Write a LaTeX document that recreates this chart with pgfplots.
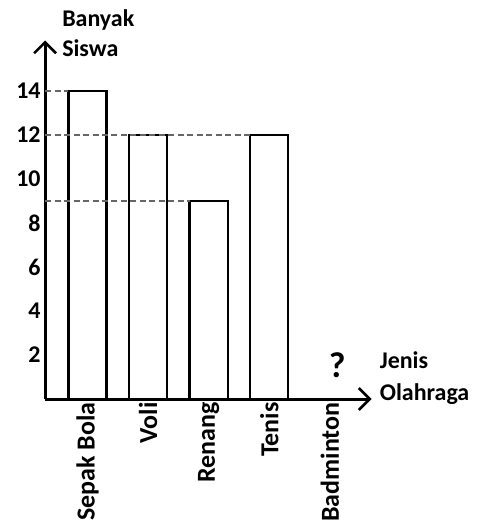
\documentclass[border=0pt]{standalone}
\usepackage{fontspec}
\setmainfont{Carlito}
\usepackage{pgfplots}
\pgfplotsset{compat=1.18}
\usetikzlibrary{arrows.meta}
\begin{document}
\begin{tikzpicture}
\begin{axis}[
  scale only axis,
  width=327pt, height=359pt,
  xmin=0.3, xmax=5.69,
  ymin=0, ymax=16.3,
  axis lines=left,
  axis line style={line width=3pt, -{Straight Barb[length=11pt,width=22pt,line width=2.6pt]}},
  clip=false,
  xtick={1,2,3,4,5},
  xticklabels={Sepak Bola,Voli,Renang,Tenis,Badminton},
  ytick={2,4,6,8,10,12,14},
  major tick length=0pt,
  /pgf/number format/assume math mode=true,
  yticklabel style={font=\bfseries\fontsize{24}{24}\selectfont, xshift=-1pt},
  xticklabel style={rotate=90, anchor=east, font=\bfseries\fontsize{26}{26}\selectfont},
]
\path (axis cs:-0.444,-5.91) rectangle (axis cs:7.49,18.14);
\addplot[ybar, bar width=0.63, draw=black, fill=none, line width=2.2pt, bar shift=0pt]
  coordinates {(1,14) (2,12) (3,9) (4,12)};
\addplot[black!60, line width=2.2pt, dash pattern=on 6pt off 3.5pt] coordinates {(0.3,14) (0.685,14)};
\addplot[black!60, line width=2.2pt, dash pattern=on 6pt off 3.5pt] coordinates {(0.3,12) (3.685,12)};
\addplot[black!60, line width=2.2pt, dash pattern=on 6pt off 3.5pt] coordinates {(0.3,9) (2.685,9)};
\node[font=\bfseries\fontsize{36}{36}\selectfont] at (axis cs:5.12,1.55) {?};
\node[anchor=base west, inner sep=0pt, font=\bfseries\fontsize{24}{24}\selectfont] at ([xshift=17pt,yshift=14pt]rel axis cs:0,1) {Banyak};
\node[anchor=base west, inner sep=0pt, font=\bfseries\fontsize{24}{24}\selectfont] at ([xshift=17pt,yshift=-16pt]rel axis cs:0,1) {Siswa};
\node[anchor=base west, inner sep=0pt, font=\bfseries\fontsize{24}{24}\selectfont] at ([xshift=8pt,yshift=31pt]rel axis cs:1,0) {Jenis};
\node[anchor=base west, inner sep=0pt, font=\bfseries\fontsize{24}{24}\selectfont] at ([xshift=8pt,yshift=-1pt]rel axis cs:1,0) {Olahraga};
\end{axis}
\end{tikzpicture}
\end{document}
